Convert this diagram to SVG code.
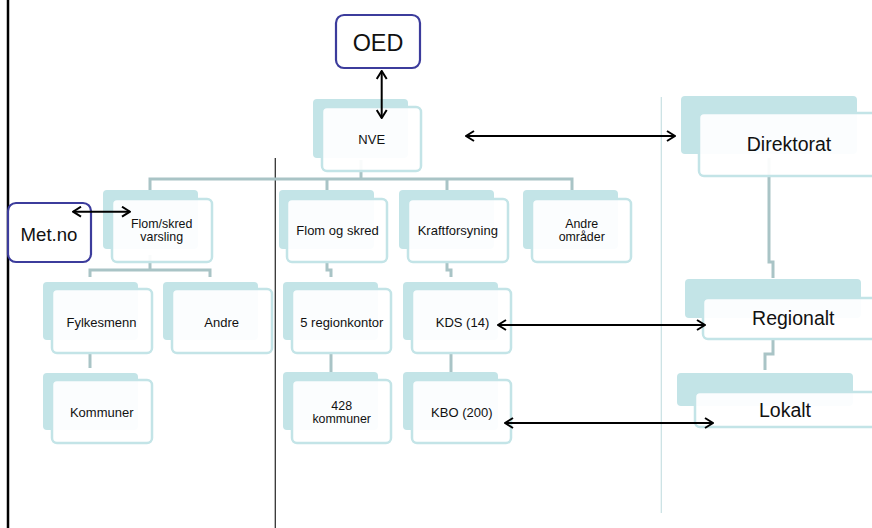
<svg xmlns="http://www.w3.org/2000/svg" width="872" height="528" viewBox="0 0 872 528">
<defs>
<marker id="ah" viewBox="0 0 10 12" refX="9" refY="6" markerWidth="10" markerHeight="12" markerUnits="userSpaceOnUse" orient="auto-start-reverse">
<path d="M1,1 L9,6 L1,11" fill="none" stroke="#000" stroke-width="2"/>
</marker>
</defs>
<style>
.bk{fill:#c3e4e7}
.fr{fill:#fff;fill-opacity:0.93;stroke:#c3e4e7;stroke-width:2.5}
.t{font-family:"Liberation Sans",Arial,sans-serif;font-size:13px;fill:#111;text-anchor:middle}
.t2{font-size:12.4px}
.tl{font-family:"Liberation Sans",Arial,sans-serif;font-size:19.5px;fill:#111;text-anchor:middle}
.ext{fill:#fff;stroke:#3c3c9c;stroke-width:2.2}
.cn{fill:none;stroke:#a9c4c6;stroke-width:3}
.ar{fill:none;stroke:#000;stroke-width:2;marker-start:url(#ah);marker-end:url(#ah)}
</style>
<rect width="872" height="528" fill="#fff"/>
<g id="frame">
<line x1="8" y1="0" x2="8" y2="528" stroke="#000" stroke-width="2.5"/>
<line x1="275.3" y1="158" x2="275.3" y2="528" stroke="#333" stroke-width="1.3"/>
<line x1="661.3" y1="97" x2="661.3" y2="513" stroke="#c8e0e3" stroke-width="1.2"/>
</g>
<g id="connectors">
<polyline class="cn" points="361,160 361,179"/>
<polyline class="cn" points="150,190 150,179 572,179 572,190"/>
<polyline class="cn" points="327,179 327,190"/>
<polyline class="cn" points="447,179 447,190"/>
<polyline class="cn" points="150,255 150,270"/>
<polyline class="cn" points="90,277 90,270 210,270 210,277"/>
<polyline class="cn" points="90,353 90,368"/>
<polyline class="cn" points="327,262 327,270 331,270 331,277"/>
<polyline class="cn" points="447,262 447,270 451,270 451,277"/>
<polyline class="cn" points="331,353 331,373"/>
<polyline class="cn" points="451,353 451,373"/>
<polyline class="cn" points="769,158 769,262 773,262 773,278"/>
<polyline class="cn" points="773,340 773,354 765,354 765,370"/>
</g>
<g id="oed">
<rect class="ext" x="336" y="15" width="84" height="53" rx="8"/>
<text class="t" x="378" y="51" style="font-size:23.4px">OED</text>
</g>
<g id="metno">
<rect class="ext" x="8" y="203" width="83" height="59" rx="8"/>
<text class="t" x="49" y="241" style="font-size:18.6px">Met.no</text>
</g>
<g id="nve">
<rect class="bk" x="313" y="99" width="95" height="59" rx="4"/>
<rect class="fr" x="322" y="107" width="99" height="64" rx="5"/>
<text class="t" x="371.7" y="144">NVE</text>
</g>
<g id="flomskredvarsling">
<rect class="bk" x="103" y="190" width="95" height="59" rx="4"/>
<rect class="fr" x="112" y="199" width="100" height="63" rx="5"/>
<text class="t t2" x="161.7" y="227.7">Flom/skred</text>
<text class="t t2" x="161.7" y="240.7">varsling</text>
</g>
<g id="flomogskred">
<rect class="bk" x="279" y="190" width="95" height="59" rx="4"/>
<rect class="fr" x="287" y="199" width="100" height="63" rx="5"/>
<text class="t" x="337.5" y="235">Flom og skred</text>
</g>
<g id="kraftforsyning">
<rect class="bk" x="399" y="190" width="95" height="59" rx="4"/>
<rect class="fr" x="408" y="199" width="100" height="63" rx="5"/>
<text class="t" x="457.8" y="235">Kraftforsyning</text>
</g>
<g id="andreomrader">
<rect class="bk" x="523" y="190" width="95" height="59" rx="4"/>
<rect class="fr" x="532" y="199" width="99" height="63" rx="5"/>
<text class="t t2" x="581.7" y="227.7">Andre</text>
<text class="t t2" x="581.7" y="240.7">områder</text>
</g>
<g id="fylkesmenn">
<rect class="bk" x="43" y="282" width="95" height="58" rx="4"/>
<rect class="fr" x="52" y="289" width="100" height="64" rx="5"/>
<text class="t" x="101.5" y="326.5">Fylkesmenn</text>
</g>
<g id="andre">
<rect class="bk" x="163" y="282" width="95" height="58" rx="4"/>
<rect class="fr" x="172" y="289" width="100" height="64" rx="5"/>
<text class="t" x="221.7" y="326.5">Andre</text>
</g>
<g id="kommuner">
<rect class="bk" x="43" y="373" width="95" height="57" rx="4"/>
<rect class="fr" x="52" y="380" width="100" height="63" rx="5"/>
<text class="t" x="101.7" y="416.5">Kommuner</text>
</g>
<g id="regionkontor">
<rect class="bk" x="283" y="282" width="95" height="58" rx="4"/>
<rect class="fr" x="292" y="289" width="99" height="64" rx="5"/>
<text class="t" x="341.8" y="326.5">5 regionkontor</text>
</g>
<g id="kds">
<rect class="bk" x="403" y="282" width="95" height="58" rx="4"/>
<rect class="fr" x="412" y="289" width="99" height="64" rx="5"/>
<text class="t" x="462.5" y="326.5">KDS (14)</text>
</g>
<g id="kommuner428">
<rect class="bk" x="283" y="372" width="95" height="58" rx="4"/>
<rect class="fr" x="292" y="380" width="99" height="63" rx="5"/>
<text class="t t2" x="341.7" y="410.2">428</text>
<text class="t t2" x="341.7" y="423.2">kommuner</text>
</g>
<g id="kbo">
<rect class="bk" x="403" y="372" width="95" height="58" rx="4"/>
<rect class="fr" x="412" y="380" width="99" height="63" rx="5"/>
<text class="t" x="461.8" y="417.3">KBO (200)</text>
</g>
<g id="direktorat">
<rect class="bk" x="681" y="96" width="176" height="58" rx="4"/>
<rect class="fr" x="699" y="113" width="185" height="63" rx="5"/>
<text class="tl" x="789" y="151">Direktorat</text>
</g>
<g id="regionalt">
<rect class="bk" x="685" y="279" width="176" height="39" rx="4"/>
<rect class="fr" x="703" y="298" width="185" height="41" rx="5"/>
<text class="tl" x="793.3" y="325">Regionalt</text>
</g>
<g id="lokalt">
<rect class="bk" x="677" y="373" width="176" height="33" rx="4"/>
<rect class="fr" x="695" y="392" width="190" height="35" rx="5"/>
<text class="tl" x="785" y="416.5">Lokalt</text>
</g>
<g id="arrows">
<line class="ar" x1="381.7" y1="71" x2="381.7" y2="118"/>
<line class="ar" x1="466" y1="136" x2="675" y2="136"/>
<line class="ar" x1="73" y1="211.7" x2="130" y2="211.7"/>
<line class="ar" x1="498" y1="325" x2="705" y2="325"/>
<line class="ar" x1="505" y1="423" x2="713" y2="423"/>
</g>
</svg>
